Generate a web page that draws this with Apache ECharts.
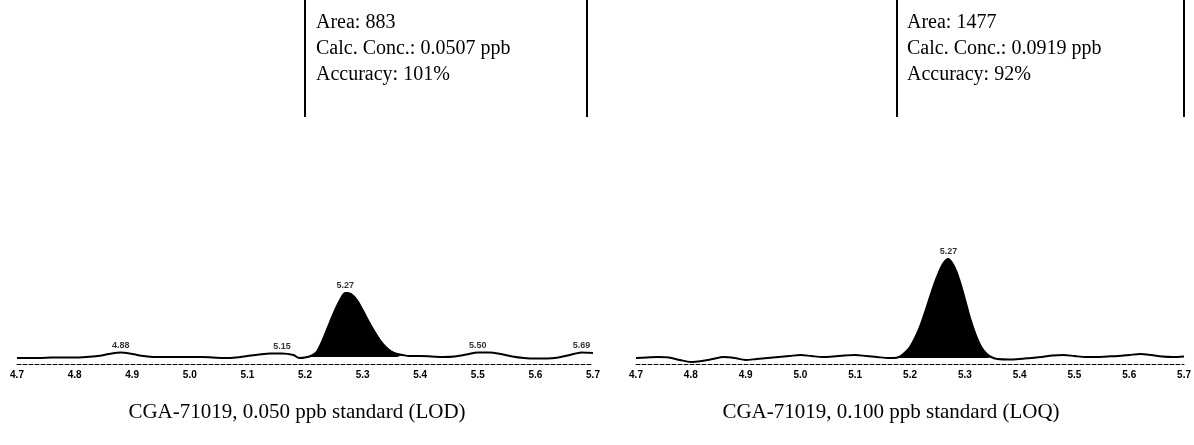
<!DOCTYPE html>
<html>
<head>
<meta charset="utf-8">
<script src="https://cdn.jsdelivr.net/npm/echarts@6/dist/echarts.min.js"></script>
<style>
html,body{margin:0;padding:0;background:#fff;}
#chart{width:1194px;height:445px;}
</style>
</head>
<body>
<div id="chart"></div>
<script>
// ---- data ----
const xTicks = [4.7, 4.8, 4.9, 5.0, 5.1, 5.2, 5.3, 5.4, 5.5, 5.6, 5.7];

const leftTime = [4.70,4.72,4.74,4.76,4.78,4.80,4.82,4.84,4.86,4.88,4.90,4.92,4.94,4.96,4.98,5.00,5.02,5.04,5.06,5.08,5.10,5.12,5.14,5.16,5.18,
  5.19,5.20,5.21,5.22,5.23,5.24,5.25,5.26,5.27,5.28,5.29,5.30,5.31,5.32,5.33,5.34,5.35,5.36,5.37,5.38,
  5.40,5.42,5.44,5.46,5.48,5.50,5.52,5.54,5.56,5.58,5.60,5.62,5.64,5.66,5.68,5.70];
const leftSignal = [6,6,6,6.5,6.5,6.5,7,8,10,11.5,10,8,7,7,7,7,7,6.5,6,6.5,8,9.5,10.5,10.5,9,
  6,6.5,8,12,23,37,51,63,71,70,64,54,43,33,24,17,12.5,10,9,8,
  8,7.5,7,7.5,9.5,11.5,11.5,10,7.5,6,5.5,5.5,6.5,9,11.5,11];
const leftLabelTimes = [4.88, 5.16, 5.27, 5.50, 5.68];
const leftLabelTexts = ['4.88', '5.15', '5.27', '5.50', '5.69'];

const rightTime = [4.70,4.72,4.74,4.76,4.78,4.80,4.82,4.84,4.86,4.88,4.90,4.92,4.94,4.96,4.98,5.00,5.02,5.04,5.06,5.08,5.10,5.12,5.14,5.16,
  5.17,5.18,5.19,5.20,5.21,5.22,5.23,5.24,5.25,5.26,5.27,5.28,5.29,5.30,5.31,5.32,5.33,5.34,5.35,5.36,
  5.38,5.40,5.42,5.44,5.46,5.48,5.50,5.52,5.54,5.56,5.58,5.60,5.62,5.64,5.66,5.68,5.70];
const rightSignal = [6,6.5,7,6.5,4,2,3,5,7,6,4,5,6,7,8,9,8,7,7.5,8.5,9,8,7,6,
  6,7,11,17,27,40,56,73,88,100,105,98,84,65,45,29,17,10,6.5,5,
  4.5,5,6,7,8.5,9,8,7,7,7.5,8,9,10,9,7.5,7,7.5];
const rightLabelTimes = [5.27];
const rightLabelTexts = ['5.27'];

const leftPeakRange = [5.20, 5.37];
const rightPeakRange = [5.17, 5.35];

const leftInfo = ['Area: 883', 'Calc. Conc.: 0.0507 ppb', 'Accuracy: 101%'];
const rightInfo = ['Area: 1477', 'Calc. Conc.: 0.0919 ppb', 'Accuracy: 92%'];
const leftCaption = 'CGA-71019, 0.050 ppb standard (LOD)';
const rightCaption = 'CGA-71019, 0.100 ppb standard (LOQ)';

// ---- build ----
function pairs(t, s) { return t.map((x, i) => [x, s[i]]); }
function peakPairs(t, s, r) { return pairs(t, s).filter(p => p[0] >= r[0] - 1e-9 && p[0] <= r[1] + 1e-9); }
function labelPoints(t, s, lt, ltext) {
  return lt.map((x, i) => {
    let best = 0;
    t.forEach((tx, j) => { if (Math.abs(tx - x) < Math.abs(t[best] - x)) best = j; });
    return { value: [x, s[best]], name: ltext[i] };
  });
}

const chart = echarts.init(document.getElementById('chart'));

function xAxisDef(gi) {
  return {
    type: 'value', gridIndex: gi, min: 4.7, max: 5.7, interval: 0.1,
    axisLine: { show: true, lineStyle: { color: '#000', width: 1, type: [4, 2] } },
    axisTick: { show: false },
    splitLine: { show: false },
    axisLabel: {
      margin: 6, color: '#000', fontSize: 10, fontWeight: 'bold', fontFamily: 'Liberation Sans',
      formatter: v => v.toFixed(1), showMinLabel: true, showMaxLabel: true
    }
  };
}
function yAxisDef(gi) {
  return { type: 'value', gridIndex: gi, min: 0, max: 110, show: false, splitLine: { show: false } };
}

function traceSeries(gi, t, s) {
  return {
    type: 'line', xAxisIndex: gi, yAxisIndex: gi, data: pairs(t, s),
    smooth: 0.3, symbol: 'none', lineStyle: { color: '#000', width: 2 }, z: 3
  };
}
function peakSeries(gi, t, s, r, origin) {
  return {
    type: 'line', xAxisIndex: gi, yAxisIndex: gi, data: peakPairs(t, s, r),
    smooth: 0.3, symbol: 'none', lineStyle: { color: '#000', width: 1 },
    areaStyle: { color: '#000', opacity: 1, origin: origin }, z: 2
  };
}
function labelSeries(gi, pts) {
  return {
    type: 'scatter', xAxisIndex: gi, yAxisIndex: gi, data: pts, symbolSize: 1,
    itemStyle: { color: 'rgba(0,0,0,0)' },
    label: {
      show: true, position: 'top', distance: 2, color: '#000', fontSize: 9, fontWeight: 'bold',
      fontFamily: 'Liberation Sans', formatter: p => p.name
    }, z: 4
  };
}

function infoGraphics(xBarL, xBarR, xText, lines) {
  const g = [
    { type: 'line', shape: { x1: xBarL, y1: 0, x2: xBarL, y2: 117 }, style: { stroke: '#000', lineWidth: 2 } },
    { type: 'line', shape: { x1: xBarR, y1: 0, x2: xBarR, y2: 117 }, style: { stroke: '#000', lineWidth: 2 } }
  ];
  lines.forEach((ln, i) => {
    g.push({ type: 'text', left: xText, top: 13 + i * 26,
      style: { text: ln, fill: '#000', font: '20px "Liberation Serif", "Times New Roman", serif' } });
  });
  return g;
}
function captionGraphic(cx, text) {
  return { type: 'text', x: cx, y: 412,
    style: { text: text, fill: '#000', font: '21px "Liberation Serif", "Times New Roman", serif',
      textAlign: 'center', textVerticalAlign: 'middle' } };
}

chart.setOption({
  animation: false,
  backgroundColor: '#fff',
  grid: [
    { left: 17, right: 601, top: 254, bottom: 81 },
    { left: 636, right: 4, top: 254, bottom: 81 }
  ],
  xAxis: [xAxisDef(0), xAxisDef(1)],
  yAxis: [yAxisDef(0), yAxisDef(1)],
  series: [
    peakSeries(0, leftTime, leftSignal, leftPeakRange, 7),
    traceSeries(0, leftTime, leftSignal),
    labelSeries(0, labelPoints(leftTime, leftSignal, leftLabelTimes, leftLabelTexts)),
    peakSeries(1, rightTime, rightSignal, rightPeakRange, 6),
    traceSeries(1, rightTime, rightSignal),
    labelSeries(1, labelPoints(rightTime, rightSignal, rightLabelTimes, rightLabelTexts))
  ],
  graphic: [].concat(
    infoGraphics(305, 587, 316, leftInfo),
    infoGraphics(897, 1184, 907, rightInfo),
    [captionGraphic(297, leftCaption), captionGraphic(891, rightCaption)]
  )
});
</script>
</body>
</html>
